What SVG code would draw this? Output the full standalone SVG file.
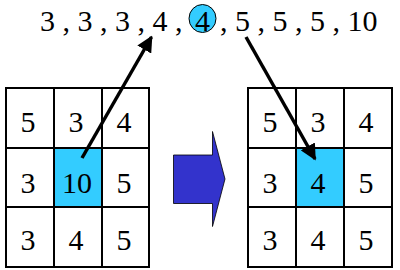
<svg xmlns="http://www.w3.org/2000/svg" width="400" height="270" viewBox="0 0 400 270" font-family="'Liberation Serif', 'Times New Roman', 'DejaVu Serif', serif" font-size="30">
<style>
.c{text-anchor:middle}
.cell{fill:#fff;stroke:#000;stroke-width:2}
.hi{fill:#33ccff}
.con{stroke:#000;stroke-width:3.5;fill:none}
</style>
<defs>
<marker id="ah" viewBox="0 0 10 10" refX="9" refY="5" markerWidth="4.6" markerHeight="4.6" orient="auto" markerUnits="strokeWidth">
<path d="M0,0 L10,5 L0,10 z" fill="#000"/>
</marker>
</defs>
<rect width="400" height="270" fill="#fff"/>
<g id="sequence">
<text x="40" y="31" xml:space="preserve">3 , 3 , 3 , 4 ,</text>
<ellipse cx="202.5" cy="18.5" rx="13.5" ry="14" fill="#33ccff" stroke="#000" stroke-width="1"/>
<text x="202.5" y="31" class="c">4</text>
<text x="220" y="31" xml:space="preserve">, 5 , 5 , 5 , 10</text>
</g>
<g id="grid-left">
<rect class="cell" x="6" y="88" width="48" height="60"/>
<rect class="cell" x="54" y="88" width="48" height="60"/>
<rect class="cell" x="102" y="88" width="47" height="60"/>
<rect class="cell" x="6" y="148" width="48" height="59"/>
<rect class="cell hi" x="54" y="148" width="48" height="59"/>
<rect class="cell" x="102" y="148" width="47" height="59"/>
<rect class="cell" x="6" y="207" width="48" height="60"/>
<rect class="cell" x="54" y="207" width="48" height="60"/>
<rect class="cell" x="102" y="207" width="47" height="60"/>
<text class="c" x="28" y="132">5</text>
<text class="c" x="76" y="132">3</text>
<text class="c" x="124" y="132">4</text>
<text class="c" x="28" y="193">3</text>
<text class="c" x="77" y="193">10</text>
<text class="c" x="124" y="193">5</text>
<text class="c" x="28" y="250">3</text>
<text class="c" x="76" y="250">4</text>
<text class="c" x="124" y="250">5</text>
</g>
<g id="grid-right">
<rect class="cell" x="248" y="88" width="48" height="60"/>
<rect class="cell" x="296" y="88" width="48" height="60"/>
<rect class="cell" x="344" y="88" width="48" height="60"/>
<rect class="cell" x="248" y="148" width="48" height="59"/>
<rect class="cell hi" x="296" y="148" width="48" height="59"/>
<rect class="cell" x="344" y="148" width="48" height="59"/>
<rect class="cell" x="248" y="207" width="48" height="60"/>
<rect class="cell" x="296" y="207" width="48" height="60"/>
<rect class="cell" x="344" y="207" width="48" height="60"/>
<text class="c" x="270" y="132">5</text>
<text class="c" x="318" y="132">3</text>
<text class="c" x="366" y="132">4</text>
<text class="c" x="270" y="193">3</text>
<text class="c" x="318" y="193">4</text>
<text class="c" x="366" y="193">5</text>
<text class="c" x="270" y="250">3</text>
<text class="c" x="318" y="250">4</text>
<text class="c" x="366" y="250">5</text>
</g>
<g id="transform-arrow">
<path d="M173.5,155 L212.5,155 L212.5,131.5 L225,179 L212.5,226.5 L212.5,203.5 L173.5,203.5 Z" fill="#3333cc" stroke="#000" stroke-width="0.8"/>
</g>
<g id="connectors">
<line class="con" x1="82" y1="158" x2="151.5" y2="37" marker-end="url(#ah)"/>
<line class="con" x1="246" y1="37" x2="315" y2="159" marker-end="url(#ah)"/>
</g>
</svg>
